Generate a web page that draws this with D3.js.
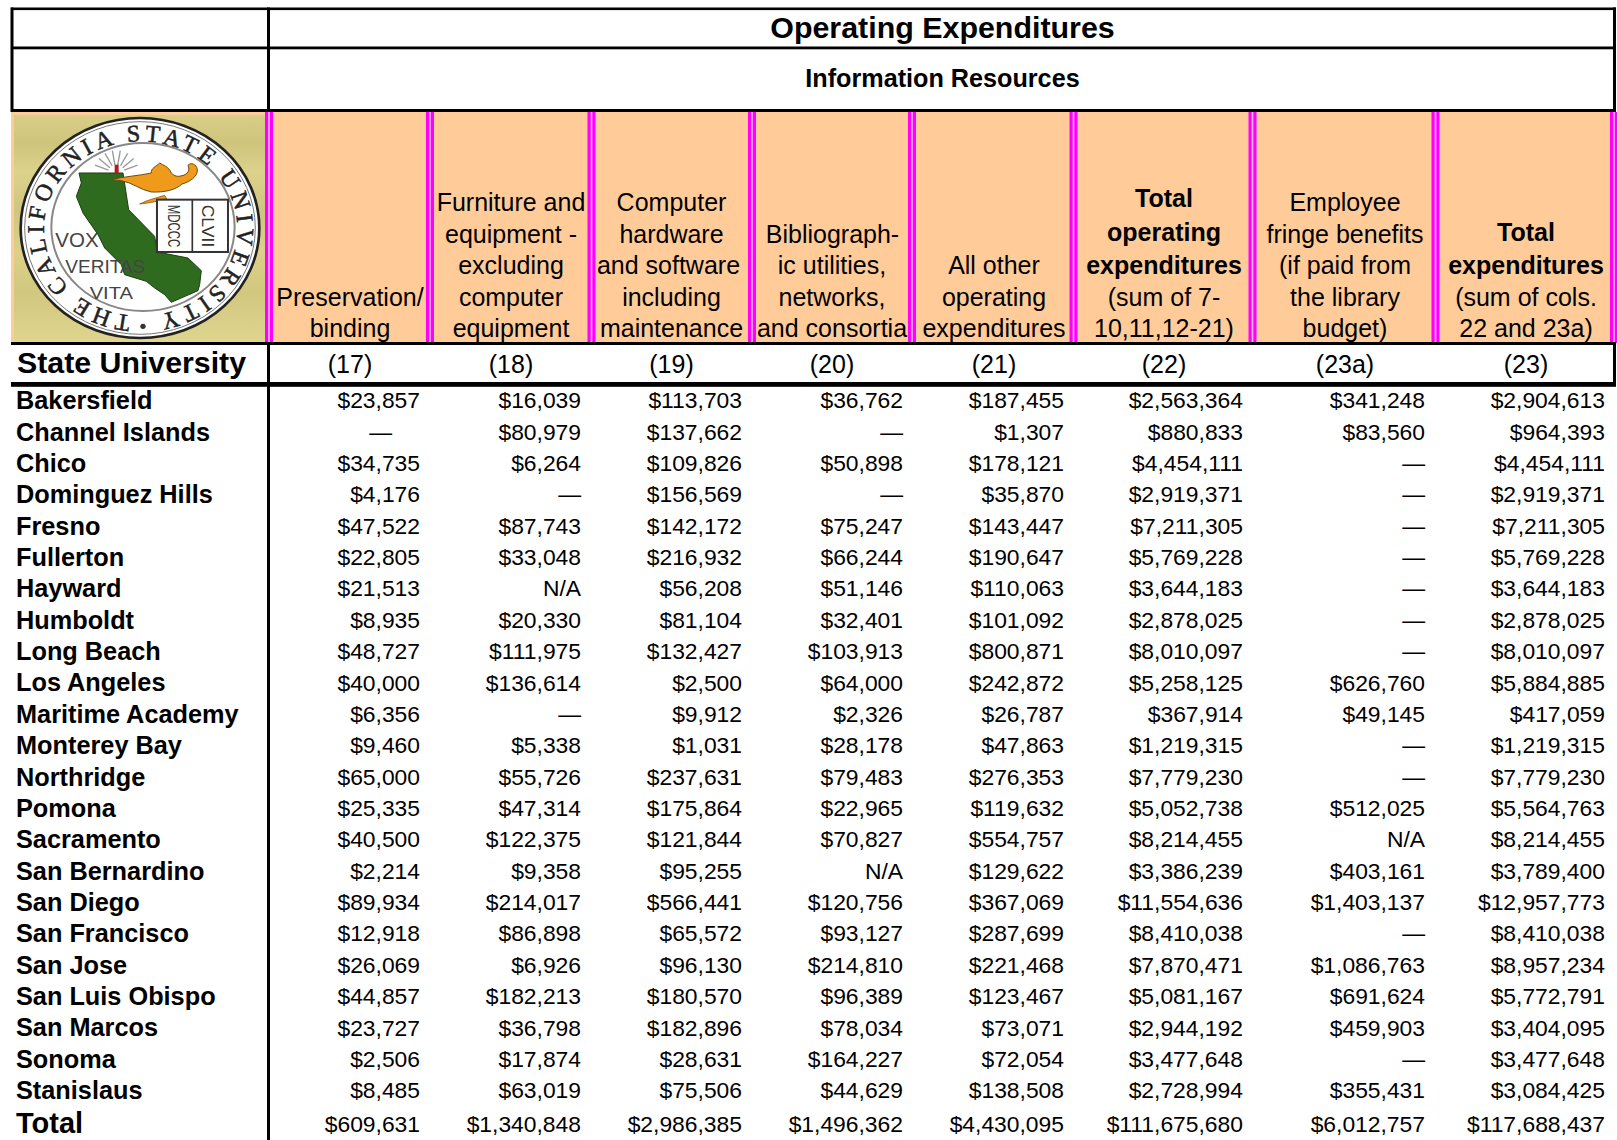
<!DOCTYPE html>
<html><head><meta charset="utf-8">
<script src="https://cdn.jsdelivr.net/npm/d3@7/dist/d3.min.js"></script>
<style>html,body{margin:0;padding:0;background:#fff;overflow:hidden}svg{display:block}text{font-family:"Liberation Sans",Arial,sans-serif;fill:#000}</style>
</head><body><svg id="c" width="1617" height="1140"></svg>
<script>
const campuses=["Bakersfield","Channel Islands","Chico","Dominguez Hills","Fresno","Fullerton","Hayward","Humboldt","Long Beach","Los Angeles","Maritime Academy","Monterey Bay","Northridge","Pomona","Sacramento","San Bernardino","San Diego","San Francisco","San Jose","San Luis Obispo","San Marcos","Sonoma","Stanislaus","Total"];
const columnIds=["(17)","(18)","(19)","(20)","(21)","(22)","(23a)","(23)"];
const c17=[23857,null,34735,4176,47522,22805,21513,8935,48727,40000,6356,9460,65000,25335,40500,2214,89934,12918,26069,44857,23727,2506,8485,609631];
const c18=[16039,80979,6264,null,87743,33048,"N/A",20330,111975,136614,null,5338,55726,47314,122375,9358,214017,86898,6926,182213,36798,17874,63019,1340848];
const c19=[113703,137662,109826,156569,142172,216932,56208,81104,132427,2500,9912,1031,237631,175864,121844,95255,566441,65572,96130,180570,182896,28631,75506,2986385];
const c20=[36762,null,50898,null,75247,66244,51146,32401,103913,64000,2326,28178,79483,22965,70827,"N/A",120756,93127,214810,96389,78034,164227,44629,1496362];
const c21=[187455,1307,178121,35870,143447,190647,110063,101092,800871,242872,26787,47863,276353,119632,554757,129622,367069,287699,221468,123467,73071,72054,138508,4430095];
const c22=[2563364,880833,4454111,2919371,7211305,5769228,3644183,2878025,8010097,5258125,367914,1219315,7779230,5052738,8214455,3386239,11554636,8410038,7870471,5081167,2944192,3477648,2728994,111675680];
const c23a=[341248,83560,null,null,null,null,null,null,null,626760,49145,null,null,512025,"N/A",403161,1403137,null,1086763,691624,459903,null,355431,6012757];
const c23=[2904613,964393,4454111,2919371,7211305,5769228,3644183,2878025,8010097,5884885,417059,1219315,7779230,5564763,8214455,3789400,12957773,8410038,8957234,5772791,3404095,3477648,3084425,117688437];
const series=[c17,c18,c19,c20,c21,c22,c23a,c23];
const headerLines=[
 [{t:"Preservation/"},{t:"binding"}],
 [{t:"Furniture and"},{t:"equipment -"},{t:"excluding"},{t:"computer"},{t:"equipment"}],
 [{t:"Computer"},{t:"hardware"},{t:"and software"},{t:"including"},{t:"maintenance"}],
 [{t:"Bibliograph-"},{t:"ic utilities,"},{t:"networks,"},{t:"and consortia"}],
 [{t:"All other"},{t:"operating"},{t:"expenditures"}],
 [{t:"Total",b:1},{t:"operating",b:1},{t:"expenditures",b:1},{t:"(sum of 7-"},{t:"10,11,12-21)"}],
 [{t:"Employee"},{t:"fringe benefits"},{t:"(if paid from"},{t:"the library"},{t:"budget)"}],
 [{t:"Total",b:1},{t:"expenditures",b:1},{t:"(sum of cols."},{t:"22 and 23a)"}]
];
const svg=d3.select("#c");
const rightEdge=d3.scaleOrdinal().domain(columnIds).range([420,581,742,903,1064,1243,1425,1605]);
const centre=d3.scaleOrdinal().domain(columnIds).range([350,511,671.5,832,994,1164,1345,1526]);
const rowY=d3.scaleLinear().domain([0,22]).range([408.3,1098.3]);
const fmt=d3.format("$,");
const seps=[269,430,591.5,752,912,1073.5,1252.5,1435.5,1614];

// peach header band
svg.append("rect").attr("x",11).attr("y",112).attr("width",1601).attr("height",231).attr("fill","#FFCC99");
// seal
const defs=svg.append("defs");
const grad=defs.append("linearGradient").attr("id","kh").attr("x1",0).attr("y1",0).attr("x2",0).attr("y2",1);
[[0,"#d9ce88"],[.12,"#cfc47c"],[.25,"#ddd28c"],[.42,"#d0c57e"],[.6,"#ddd18a"],[.78,"#d2c77f"],[1,"#e0d58e"]].forEach(s=>grad.append("stop").attr("offset",s[0]).attr("stop-color",s[1]));
svg.append("rect").attr("x",14).attr("y",115).attr("width",251).attr("height",228).attr("fill","url(#kh)");
const L=svg.append("g").attr("transform","translate(8,108) scale(0.3333)");
L.append("ellipse").attr("cx",396).attr("cy",360).attr("rx",358).attr("ry",330).attr("fill","#fff").attr("stroke","#222").attr("stroke-width",8);
L.append("ellipse").attr("cx",396).attr("cy",360).attr("rx",346).attr("ry",319).attr("fill","none").attr("stroke","#777").attr("stroke-width",3);
L.append("ellipse").attr("cx",405).attr("cy",357).attr("rx",275).attr("ry",252).attr("fill","none").attr("stroke","#888").attr("stroke-width",6);
// ring text
const rx=290,ry=262,cx=398,cy=362;
const a0=Math.PI/2+0.1,a1=Math.PI/2-0.2+2*Math.PI;
const pt=a=>[cx+rx*Math.cos(a),cy+ry*Math.sin(a)];
const p0=pt(a0),p1=pt(a1);
const ringPath=defs.append("path").attr("id","ring").attr("d",`M${p0[0]},${p0[1]}A${rx},${ry} 0 1 1 ${p1[0]},${p1[1]}`);
L.append("text").style("font-family","'Liberation Serif',serif").attr("font-size",72).attr("textLength",ringPath.node().getTotalLength()).attr("lengthAdjust","spacing")
 .style("fill","#222").style("stroke","#222").style("stroke-width",1.5).append("textPath").attr("href","#ring").text("THE CALIFORNIA STATE UNIVERSITY");
L.append("circle").attr("cx",405).attr("cy",655).attr("r",8).attr("fill","#333");
// rays
d3.range(-70,71,20).forEach(a=>{const r=a*Math.PI/180;L.append("line").attr("x1",325+25*Math.sin(r)).attr("y1",195-25*Math.cos(r)).attr("x2",325+68*Math.sin(r)).attr("y2",195-68*Math.cos(r)).attr("stroke","#999").attr("stroke-width",4);});
// California
const caPts=[[213,195],[345,195],[362,305],[440,385],[448,432],[540,450],[580,488],[575,530],[570,548],[490,583],[470,560],[440,540],[415,520],[350,500],[340,470],[290,420],[270,380],[225,315],[205,265],[220,225]];
L.append("path").attr("d",d3.line()(caPts)+"Z").attr("fill","#2f6b1f").attr("stroke","#1d3d12").attr("stroke-width",3);
// lamp
L.append("path").attr("d","M310,215 C345,206 395,203 430,195 C428,180 445,176 455,165 C465,172 482,175 490,195 C497,203 505,205 512,205 C530,203 550,195 540,172 C548,162 566,168 568,185 C570,205 545,222 522,228 C505,245 470,254 430,252 C395,245 375,224 340,218 Z").attr("fill","#ef9a1a").attr("stroke","#6b4a10").attr("stroke-width",3);
L.append("path").attr("d","M395,288 C420,275 445,270 470,262 L476,272 C450,280 420,286 395,288Z").attr("fill","#ef9a1a").attr("stroke","#6b4a10").attr("stroke-width",2);
L.append("rect").attr("x",320).attr("y",170).attr("width",12).attr("height",28).attr("fill","#b01c1c");
// book
L.append("rect").attr("x",447).attr("y",275).attr("width",213).attr("height",157).attr("fill","#fff").attr("stroke","#333").attr("stroke-width",6);
L.append("line").attr("x1",553).attr("y1",275).attr("x2",553).attr("y2",432).attr("stroke","#333").attr("stroke-width",5);
[["MDCCC",480],["CLVII",583]].forEach(d=>{L.append("text").attr("transform",`translate(${d[0]==="MDCCC"?480:583},290) rotate(90)`).attr("font-size",50).attr("textLength",128).attr("lengthAdjust","spacingAndGlyphs").style("fill","#333").text(d[0]);});
// motto
[["VOX",142,418,60,130],["VERITAS",172,494,56,240],["VITA",245,572,52,130]].forEach(d=>{L.append("text").attr("x",d[1]).attr("y",d[2]).attr("font-size",d[3]).attr("textLength",d[4]).attr("lengthAdjust","spacingAndGlyphs").style("fill","#444").text(d[0]);});

// separators
svg.selectAll("g.sep").data(seps).join("g").attr("class","sep").each(function(x){
  const g=d3.select(this);
  g.append("rect").attr("x",x-4).attr("y",112).attr("width",Math.min(8,1617-(x-4))).attr("height",231).attr("fill","#FF00FF");
  g.append("rect").attr("x",x-.8).attr("y",112).attr("width",1.6).attr("height",231).attr("fill","#ffb8f0");
});
// rules
const hr=(x1,x2,y,h)=>svg.append("rect").attr("x",x1).attr("y",y).attr("width",x2-x1).attr("height",h).attr("fill","#000");
const vr=(x,y1,y2,w)=>svg.append("rect").attr("x",x).attr("y",y1).attr("width",w).attr("height",y2-y1).attr("fill","#000");
hr(11,1616,7.5,2.6);hr(11,1616,46.5,2.8);hr(11,1616,109,3);hr(11,1616,342,3);hr(11,1616,382,4.8);
vr(10.5,7.5,112,3);vr(267,7.5,110,3);vr(267,343,1140,3);vr(1613,7.5,112,3);vr(1613,343,386,3);

// titles
svg.append("text").attr("x",942.5).attr("y",38).attr("text-anchor","middle").attr("font-weight","bold").attr("font-size",30.4).text("Operating Expenditures");
svg.append("text").attr("x",942.5).attr("y",87).attr("text-anchor","middle").attr("font-weight","bold").attr("font-size",25.2).text("Information Resources");
// column headers
const lineH=31.4;
const lift={"5/0":4,"5/1":1.8,"7/0":1.8};
const nudge={"2/2":-3,"3/0":0.5};
columnIds.forEach((id,i)=>{
  const lines=headerLines[i],n=lines.length;
  lines.forEach((l,k)=>{
    svg.append("text").attr("x",centre(id)+(nudge[i+"/"+k]||0)).attr("y",337-(n-1-k)*lineH-(lift[i+"/"+k]||0)).attr("text-anchor","middle").attr("font-size",25).attr("font-weight",l.b?"bold":null).text(l.t);
  });
  svg.append("text").attr("x",centre(id)).attr("y",373).attr("text-anchor","middle").attr("font-size",25).text(id);
});
svg.append("text").attr("x",17).attr("y",373).attr("font-weight","bold").attr("font-size",30.3).text("State University");
// rows
const yOf=i=>i===23?rowY(i)+2.2:rowY(i);
svg.selectAll("text.name").data(campuses).join("text").attr("class","name").attr("x",16).attr("y",(d,i)=>yOf(i)+(i===23?.8:0.9)).attr("font-weight","bold").attr("font-size",(d,i)=>i===23?29:25.3).text(d=>d);
series.forEach((vals,c)=>{
  const id=columnIds[c];
  svg.selectAll("text.v"+c).data(vals).join("text").attr("class","v"+c)
   .attr("x",d=>(d===null&&c===0)?rightEdge(id)-28:rightEdge(id)).attr("y",(d,i)=>yOf(i)).attr("text-anchor","end").attr("font-size",22.85)
   .text(d=>d===null?"—":(typeof d==="string"?d:fmt(d)));
});
</script></body></html>
